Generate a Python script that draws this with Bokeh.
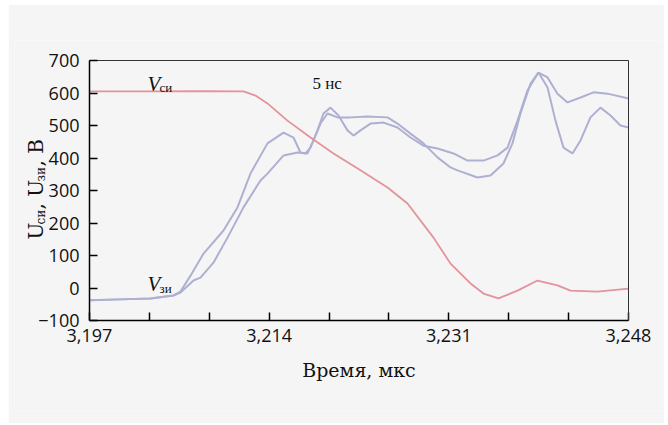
from math import pi
from bokeh.plotting import figure
from bokeh.models import Range1d, FixedTicker, CustomJSTickFormatter, Label, LinearAxis
from bokeh.embed import file_html
from bokeh.resources import INLINE

# ---- data (time in µs, voltage in V) ----
t_vds = [3.19700, 3.20277, 3.20750, 3.21157, 3.21271, 3.21384, 3.21573, 3.21791, 3.22009,
         3.22264, 3.22520, 3.22709, 3.22955, 3.23116, 3.23305, 3.23428, 3.23570, 3.23750,
         3.23939, 3.24128, 3.24251, 3.24507, 3.24800]
v_vds = [605, 605, 606, 605, 592, 568, 515, 463, 414, 362, 309, 260, 155, 75, 14, -17, -32,
         -8, 23, 8, -8, -11, -2]

t_vgs_a = [3.19700, 3.19993, 3.20277, 3.20495, 3.20561, 3.20656, 3.20779, 3.20968, 3.21100,
           3.21223, 3.21384, 3.21536, 3.21630, 3.21696, 3.21744, 3.21791, 3.21857, 3.21914,
           3.21980, 3.22056, 3.22141, 3.22198, 3.22264, 3.22359, 3.22482, 3.22614, 3.22737,
           3.22860, 3.22993, 3.23144, 3.23277, 3.23428, 3.23561, 3.23655, 3.23750, 3.23844,
           3.23948, 3.24034, 3.24128, 3.24223, 3.24346, 3.24469, 3.24601, 3.24800]
v_vgs_a = [-38, -35, -32, -23, -11, 38, 106, 177, 248, 352, 445, 478, 463, 417, 414, 432, 485,
           537, 555, 531, 485, 469, 485, 506, 509, 494, 463, 438, 429, 414, 392, 392, 408, 432,
           515, 608, 663, 648, 598, 571, 586, 602, 598, 583]

t_vgs_b = [3.19700, 3.19993, 3.20277, 3.20495, 3.20561, 3.20684, 3.20750, 3.20873, 3.21006,
           3.21157, 3.21318, 3.21384, 3.21536, 3.21668, 3.21763, 3.21819, 3.21886, 3.21952,
           3.22047, 3.22170, 3.22330, 3.22520, 3.22614, 3.22737, 3.22860, 3.22993, 3.23116,
           3.23182, 3.23371, 3.23494, 3.23617, 3.23702, 3.23778, 3.23873, 3.23948, 3.24034,
           3.24109, 3.24185, 3.24270, 3.24346, 3.24440, 3.24535, 3.24630, 3.24724, 3.24800]
v_vgs_b = [-38, -35, -32, -23, -14, 23, 32, 78, 155, 248, 331, 352, 408, 417, 414, 454, 506,
           537, 525, 525, 528, 525, 506, 475, 445, 402, 371, 362, 340, 346, 383, 445, 537, 629,
           663, 617, 515, 432, 414, 454, 525, 555, 531, 500, 494]

x_start, x_end = 3.197, 3.248
y_start, y_end = -100, 700
x_major_ticks = [3.197, 3.214, 3.231, 3.248]
x_minor_ticks = [3.20267, 3.20833, 3.21967, 3.22533, 3.23667, 3.24233]
y_ticks = [-100, 0, 100, 200, 300, 400, 500, 600, 700]

# ---- layout (page pixels) ----
BG = "#f5f5f5"
SERIF = "DejaVu Serif"
SERIF2 = "Liberation Serif"
SANS = "Open Sans"
FIG_X, FIG_Y, FIG_W, FIG_H = 8, 4, 656, 419
BOX_L, BOX_R, BOX_T, BOX_B = 89, 628, 60, 320        # axis box on the page
FR_L, FR_R, FR_T, FR_B = 14, 662, 40, 410            # drawing frame on the page

ux = (x_end - x_start) / (BOX_R - BOX_L)
uy = (y_end - y_start) / (BOX_B - BOX_T)
x_lo = x_start - (BOX_L - FR_L) * ux
x_hi = x_end + (FR_R - BOX_R) * ux
y_hi = y_end + (BOX_T - FR_T) * uy
y_lo = y_start - (FR_B - BOX_B) * uy

p = figure(width=FIG_W, height=FIG_H, output_backend="svg", toolbar_location=None,
           x_range=Range1d(x_lo, x_hi), y_range=Range1d(y_lo, y_hi),
           min_border_left=FR_L - FIG_X, min_border_right=FIG_X + FIG_W - FR_R,
           min_border_top=FR_T - FIG_Y, min_border_bottom=FIG_Y + FIG_H - FR_B)
p.margin = (FIG_Y, 0, 0, FIG_X)
p.background_fill_color = BG
p.border_fill_color = BG
p.outline_line_color = None
p.xgrid.visible = False
p.ygrid.visible = False

p.line(t_vgs_a, v_vgs_a, line_color="#aeb0d2", line_width=2)
p.line(t_vgs_b, v_vgs_b, line_color="#aeb0d2", line_width=2)
p.line(t_vds, v_vds, line_color="#e3939b", line_width=1.8)

xa = p.xaxis[0]
xa.ticker = FixedTicker(ticks=x_major_ticks, minor_ticks=x_minor_ticks)
xa.formatter = CustomJSTickFormatter(code="return tick.toFixed(3).replace('.', ',');")
xa.bounds = (x_start, x_end)
xa.fixed_location = y_start
ya = p.yaxis[0]
ya.ticker = FixedTicker(ticks=y_ticks)
ya.formatter = CustomJSTickFormatter(
    code="return tick < 0 ? '\\u2212' + Math.abs(tick) : String(tick);")
ya.bounds = (y_start, y_end)
ya.fixed_location = x_start

for ax in (xa, ya):
    ax.axis_line_color = "black"
    ax.axis_line_width = 1.5
    ax.major_tick_line_color = "black"
    ax.major_tick_line_width = 1.5
    ax.minor_tick_line_color = "black"
    ax.minor_tick_line_width = 1.5
    ax.major_tick_in = 8
    ax.major_tick_out = 0
    ax.minor_tick_in = 8
    ax.minor_tick_out = 0
    ax.major_label_text_font = SANS
    ax.major_label_text_font_size = "18px"
    ax.major_label_text_color = "#111111"
    ax.major_label_standoff = 8
ya.minor_tick_line_color = None
ya.major_label_standoff = 10

xa.axis_label = "Время, мкс"
xa.axis_label_text_font = SERIF
xa.axis_label_text_font_size = "19px"
xa.axis_label_text_font_style = "normal"
xa.axis_label_text_color = "#111111"
xa.axis_label_standoff = 14

# top and right edges of the box
top = LinearAxis(ticker=FixedTicker(ticks=[]), bounds=(x_start, x_end), fixed_location=y_end,
                 axis_line_color="#333333", axis_line_width=1,
                 major_label_text_font_size="0px")
right = LinearAxis(ticker=FixedTicker(ticks=[]), bounds=(y_start, y_end), fixed_location=x_end,
                   axis_line_color="#333333", axis_line_width=1,
                   major_label_text_font_size="0px")
p.add_layout(top, "above")
p.add_layout(right, "right")


def lab(px, py, text, size, font=SERIF, style="normal", angle=0.0):
    # px, py: page pixel position of the text's start on its baseline
    p.add_layout(Label(x=px - FR_L, y=FR_B - py, x_units="screen", y_units="screen",
                       text=text, text_font=font, text_font_size=size,
                       text_font_style=style, text_color="#111111",
                       text_baseline="alphabetic", text_align="left", angle=angle))


# curve labels
lab(147, 83, "V", "21px", SERIF2, "italic")
lab(159, 87, "си", "13px", SERIF2)
lab(147, 283, "V", "21px", SERIF2, "italic")
lab(159, 288, "зи", "13px", SERIF2)
lab(312, 83, "5 нс", "17px", SERIF2)

# y-axis title (rotated), pieces for the subscripts
lab(35, 239, "U", "20px", angle=pi / 2)
lab(40, 224, "си", "12px", angle=pi / 2)
lab(35, 209, ", U", "20px", angle=pi / 2)
lab(40, 181, "зи", "12px", angle=pi / 2)
lab(35, 166, ", В", "20px", angle=pi / 2)

open("out.html", "w").write(file_html(p, INLINE))
